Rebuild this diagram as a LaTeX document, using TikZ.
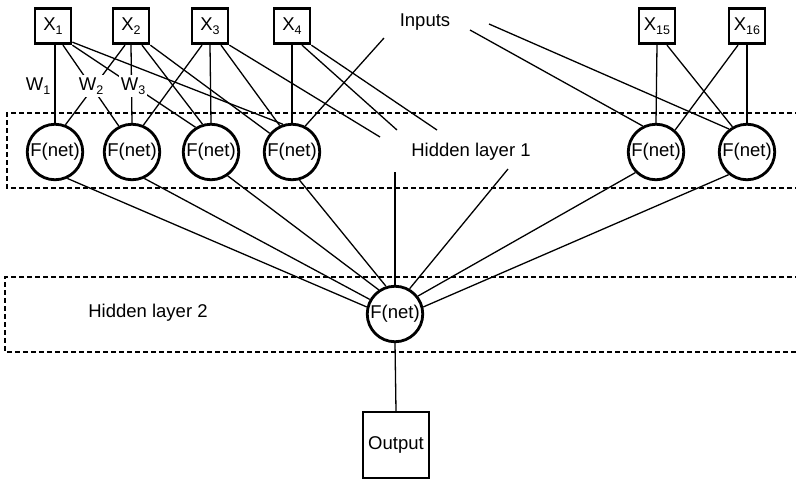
\documentclass[tikz,border=0pt]{standalone}
\usepackage{fontspec}
\setmainfont{Liberation Sans}
\newcommand\lowidx[1]{\raisebox{-4.5pt}{\fontsize{12.5}{13}\selectfont #1}}
\begin{document}
\begin{tikzpicture}[x=1pt,y=-1pt,
  font=\fontsize{18.5}{21}\selectfont,
  inbox/.style={draw, line width=2.8pt, minimum width=36pt, minimum height=35.5pt, inner sep=0pt},
  neuron/.style={draw, circle, line width=2.8pt, minimum size=55.5pt, inner sep=0pt},
  outbox/.style={draw, line width=2.4pt, minimum width=66pt, minimum height=66pt, inner sep=0pt},
  conn/.style={line width=1.3pt},
  layerbox/.style={dash pattern=on 5pt off 3pt, line width=2.2pt},
  wlab/.style={fill=white, inner sep=2pt},
  lab/.style={inner sep=0pt}]
\useasboundingbox (0,0) rectangle (796,480);

% layer boxes
\draw[layerbox] (800,113) -- (7,113) -- (7,188) -- (800,188);
\draw[layerbox] (800,277) -- (5,277) -- (5,352) -- (800,352);

% inputs
\node[inbox] (x1) at (53,26) {X\lowidx{1}};
\node[inbox] (x2) at (131,26) {X\lowidx{2}};
\node[inbox] (x3) at (210,26) {X\lowidx{3}};
\node[inbox] (x4) at (292,26) {X\lowidx{4}};
\node[inbox] (x15) at (657,26) {X\lowidx{15}};
\node[inbox] (x16) at (747,26) {X\lowidx{16}};

% hidden layer 1
\node[neuron] (h1) at (55,152) {F(net)};
\node[neuron] (h2) at (132,152) {F(net)};
\node[neuron] (h3) at (211,152) {F(net)};
\node[neuron] (h4) at (292,152) {F(net)};
\node[neuron] (h5) at (656,152) {F(net)};
\node[neuron] (h6) at (747,152) {F(net)};

% hidden layer 2 and output
\node[neuron] (o) at (395,314) {F(net)};
\node[outbox] (out) at (396,445) {Output};

% free ends
\coordinate (c3) at (380,137);
\coordinate (c4a) at (397,130);
\coordinate (c4b) at (437,130);
\coordinate (ci4) at (384,38);
\coordinate (ci5) at (470,30);
\coordinate (ci6) at (489,24);
\coordinate (c5) at (395,172);
\coordinate (c6) at (508,169);

% input -> hidden 1
\draw[conn] (h1.north |- x1.south) -- (h1.north);
\draw[conn] ([xshift=10pt]x1.south) -- (h2.117);
\draw[conn] (x1.south east) -- (h3.122);
\draw[conn] ([yshift=3pt]x1.south east) -- (h4.108);

\draw[conn] ([xshift=-6pt]x2.south) -- (h1.69);
\draw[conn] (x2.south) -- (h2.north);
\draw[conn] ([xshift=11pt]x2.south) -- (h3.107);
\draw[conn] (x2.south east) -- (h4.140);

\draw[conn] ([xshift=-8pt]x3.south) -- (h2.67);
\draw[conn] (x3.south) -- (h3.north);
\draw[conn] ([xshift=11pt]x3.south) -- (h4.115);
\draw[conn] (x3.south east) -- (c3);

\draw[conn] (x4.south) -- (h4.north);
\draw[conn] ([xshift=10pt]x4.south) -- (c4a);
\draw[conn] (x4.south east) -- (c4b);

\draw[conn] (ci4) -- (h4.63);
\draw[conn] (ci5) -- (h5.117);
\draw[conn] (ci6) -- (h6.128);

\draw[conn] (x15.south) -- (h5.north);
\draw[conn] ([xshift=10pt]x15.south) -- (h6.120);
\draw[conn] ([xshift=-9pt]x16.south) -- (h5.49);
\draw[conn] (x16.south) -- (h6.north);

% hidden 1 -> hidden 2
\draw[conn] (h1.-65) -- (o.166);
\draw[conn] (h2.-65) -- (o.150);
\draw[conn] (h3.-55) -- (o.124);
\draw[conn] (h4.-75) -- (o.108);
\draw[conn] (c5) -- (o.north);
\draw[conn] (c6) -- (o.60);
\draw[conn] (h5.-135) -- (o.38);
\draw[conn] (h6.-129) -- (o.14);

% hidden 2 -> output
\draw[conn] (o.south) -- (out.north);

% labels
\node[lab] (w1) at (38,86) {W\lowidx{1}};
\node[wlab] (w2) at (91,86) {W\lowidx{2}};
\node[wlab] (w3) at (133,86) {W\lowidx{3}};
\node[lab] (inl) at (425,22) {Inputs};
\node[lab] (hl1) at (471,152) {Hidden layer 1};
\node[lab] (hl2) at (148,313) {Hidden layer 2};
\end{tikzpicture}
\end{document}
